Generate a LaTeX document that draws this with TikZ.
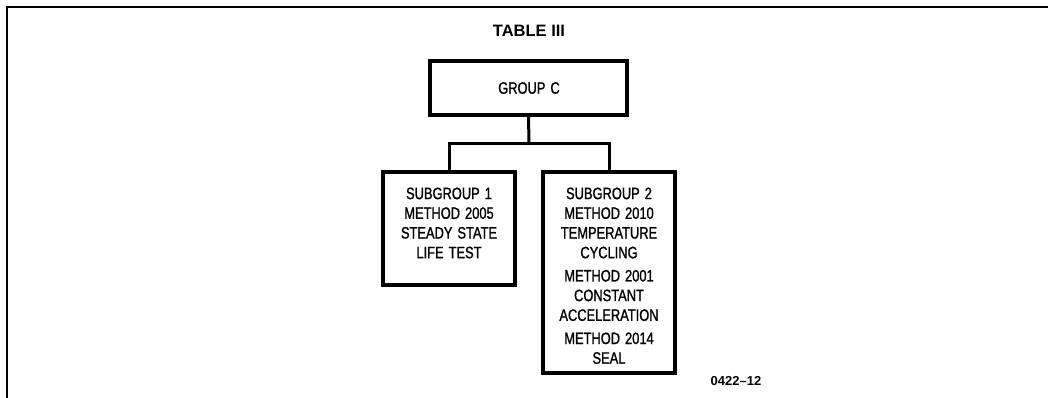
\documentclass[tikz,border=0pt]{standalone}
\usepackage{fontspec}
\newfontfamily\boxfont[FakeStretch=0.78,WordSpace=1.4,FakeBold=1.2]{Liberation Sans}
\newfontfamily\headfont{Liberation Sans}
\begin{document}
\begin{tikzpicture}[x=1pt,y=-1pt,
  groupbox/.style={draw,line width=3.5pt,minimum width=#1,inner sep=0pt},
  wire/.style={line width=3pt},
  boxtext/.style={font=\boxfont\fontsize{16.5}{19.7}\selectfont,align=center,inner sep=0pt,anchor=north},
  frameline/.style={line width=2.6pt}]
  % page extent
  \useasboundingbox (0,0) rectangle (1048,397);
  % open frame: left and top rules
  \coordinate (fb) at (7,400);
  \coordinate (fc) at (7,7);
  \coordinate (fr) at (1050,7);
  \draw[frameline] (fb) -- (fc) -- (fr);

  \node[font=\headfont\bfseries\fontsize{16.5}{19}\selectfont,inner sep=0pt] (title) at (529,31) {TABLE III};

  % group boxes
  \node[groupbox=197pt,minimum height=54pt] (gc) at (528.5,88) {};
  \node[font=\boxfont\fontsize{16.5}{18}\selectfont,inner sep=0pt] (gctext) at (529,88) {GROUP C};

  \node[groupbox=132pt,minimum height=113pt] (s1) at (449,228.5) {};
  \node[groupbox=132pt,minimum height=201pt] (s2) at (609,272.5) {};

  \node[boxtext] (s1text) at (449,187.4)
    {SUBGROUP 1\\METHOD 2005\\STEADY STATE\\LIFE TEST};
  \node[boxtext] (s2text) at (609,187.4)
    {SUBGROUP 2\\METHOD 2010\\TEMPERATURE\\CYCLING\\[3.5pt]METHOD 2001\\CONSTANT\\ACCELERATION\\[3.5pt]METHOD 2014\\SEAL};

  % tree connectors
  \coordinate (bus) at (529,143);
  \draw[wire] (gc.south) -- (bus);
  \draw[wire] (s1.north) |- (bus) -| (s2.north);

  \node[font=\headfont\bfseries\fontsize{13}{15}\selectfont,inner sep=0pt] (fig) at (736,381.5) {0422–12};
\end{tikzpicture}
\end{document}
